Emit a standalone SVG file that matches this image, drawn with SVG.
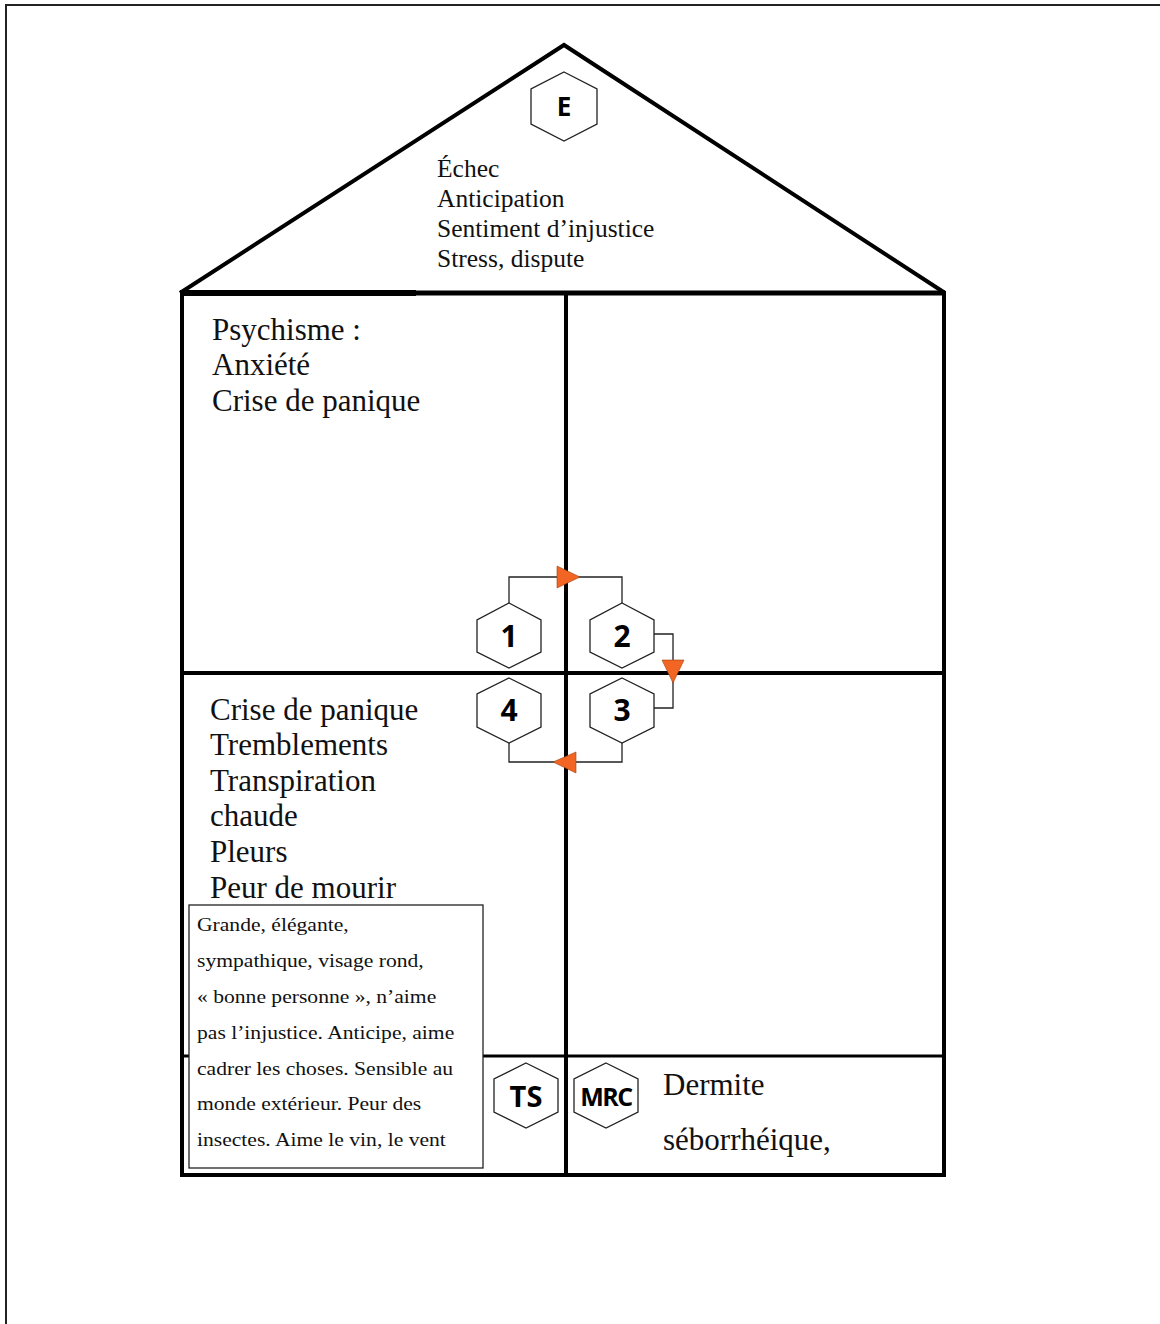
<svg xmlns="http://www.w3.org/2000/svg" width="1160" height="1324" viewBox="0 0 1160 1324">
<style>
.wall{stroke:#000;stroke-width:4;fill:none;stroke-linecap:square}
.hex{fill:#fff;stroke:#222;stroke-width:1.3}
.hl{font-family:"Open Sans","DejaVu Sans",sans-serif;font-weight:bold;text-anchor:middle;fill:#000}
.serif{font-family:"Liberation Serif","Times New Roman",serif;fill:#111}
.conn{fill:none;stroke:#222;stroke-width:1.3}
.arr{fill:#F26522;stroke:#a04010;stroke-width:0.6}
</style>
<rect x="0" y="0" width="1160" height="1324" fill="#fff"/>
<path d="M6 1324 V5 H1160" fill="none" stroke="#222" stroke-width="2"/>
<g id="house">
<path d="M180 293 L564 45 L945 293" fill="none" stroke="#000" stroke-width="4" stroke-linejoin="miter"/>
<line x1="180" y1="293" x2="945" y2="293" stroke="#000" stroke-width="5"/>
<line x1="180" y1="293" x2="416" y2="293" stroke="#000" stroke-width="6"/>
<line class="wall" x1="182" y1="293" x2="182" y2="1175"/>
<line class="wall" x1="944" y1="293" x2="944" y2="1175"/>
<line class="wall" x1="566" y1="293" x2="566" y2="1175"/>
<line class="wall" x1="182" y1="673" x2="944" y2="673"/>
<line x1="182" y1="1056" x2="944" y2="1056" stroke="#000" stroke-width="3"/>
<line class="wall" x1="182" y1="1175" x2="944" y2="1175"/>
</g>
<g id="roof-text" class="serif" font-size="25.5">
<text x="437" y="177">Échec</text>
<text x="437" y="207">Anticipation</text>
<text x="437" y="237">Sentiment d’injustice</text>
<text x="437" y="267">Stress, dispute</text>
</g>
<g id="node-E">
<polygon class="hex" points="564,72 597,89 597,124 564,141 531,124 531,89"/>
<text class="hl" x="564" y="116" font-size="26">E</text>
</g>
<g id="psychisme" class="serif" font-size="31">
<text x="212" y="340">Psychisme :</text>
<text x="212" y="375">Anxiété</text>
<text x="212" y="411">Crise de panique</text>
</g>
<g id="symptomes" class="serif" font-size="31">
<text x="210" y="720">Crise de panique</text>
<text x="210" y="755">Tremblements</text>
<text x="210" y="791">Transpiration</text>
<text x="210" y="826">chaude</text>
<text x="210" y="862">Pleurs</text>
<text x="210" y="898">Peur de mourir</text>
</g>
<g id="portrait">
<rect x="189" y="905" width="294" height="263" fill="#fff" stroke="#222" stroke-width="1.3"/>
<g class="serif" font-size="18" transform="translate(197,0) scale(1.2,1)">
<text x="0" y="931">Grande, élégante,</text>
<text x="0" y="967">sympathique, visage rond,</text>
<text x="0" y="1003">« bonne personne », n’aime</text>
<text x="0" y="1039">pas l’injustice. Anticipe, aime</text>
<text x="0" y="1075">cadrer les choses. Sensible au</text>
<text x="0" y="1110">monde extérieur. Peur des</text>
<text x="0" y="1146">insectes. Aime le vin, le vent</text>
</g>
</g>
<g id="connectors">
<polyline class="conn" points="509,603 509,577 622,577 622,603"/>
<polyline class="conn" points="654,634 673,634 673,708 654,708"/>
<polyline class="conn" points="622,743 622,762 509,762 509,743"/>
<polygon class="arr" points="557,566 580,577 557,588"/>
<polygon class="arr" points="662,660 684,660 673,683"/>
<polygon class="arr" points="576,752 553,762 576,773"/>
</g>
<g id="node-1">
<polygon class="hex" points="509,603 541,620 541,652 509,668 477,652 477,620"/>
<text class="hl" x="509" y="647" font-size="30">1</text>
</g>
<g id="node-2">
<polygon class="hex" points="622,603 654,620 654,652 622,668 590,652 590,620"/>
<text class="hl" x="622" y="647" font-size="30">2</text>
</g>
<g id="node-4">
<polygon class="hex" points="509,678 541,694 541,727 509,743 477,727 477,694"/>
<text class="hl" x="509" y="721" font-size="30">4</text>
</g>
<g id="node-3">
<polygon class="hex" points="622,678 654,694 654,727 622,743 590,727 590,694"/>
<text class="hl" x="622" y="721" font-size="30">3</text>
</g>
<g id="node-TS">
<polygon class="hex" points="526,1063 558,1079 558,1112 526,1128 494,1112 494,1079"/>
<text class="hl" x="526" y="1107" font-size="29">TS</text>
</g>
<g id="node-MRC">
<polygon class="hex" points="606,1063 638,1079 638,1112 606,1128 574,1112 574,1079"/>
<text class="hl" x="606" y="1106" font-size="25" letter-spacing="-1.5">MRC</text>
</g>
<g id="mrc-text" class="serif" font-size="31">
<text x="663" y="1095">Dermite</text>
<text x="663" y="1150">séborrhéique,</text>
</g>
</svg>
